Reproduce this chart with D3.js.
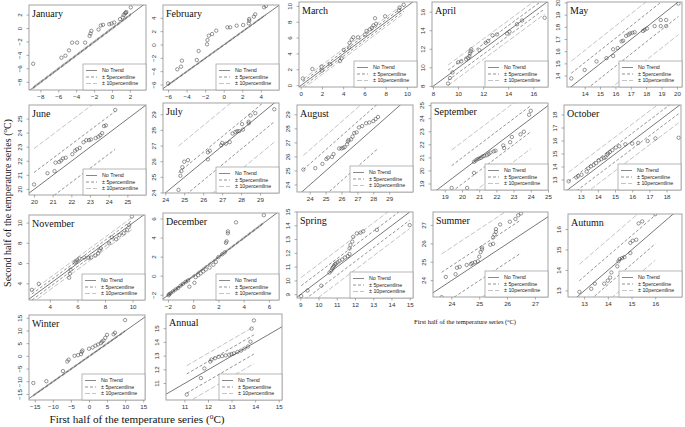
<!DOCTYPE html>
<html><head><meta charset="utf-8">
<script src="https://cdn.jsdelivr.net/npm/d3@7"></script>
<style>body{margin:0;background:#fff}svg{display:block}</style>
</head><body>
<svg id="c" width="685" height="427"></svg>
<script>
// ---------- data ----------
const panelNames = ["January","February","March","April","May","June","July","August","September","October","November","December","Spring","Summer","Autumn","Winter","Annual"];
const xDomains = [[-9.27,3.8],[-6.54,5.96],[-0.16,10.95],[7.92,17.17],[12.85,20.33],[19.73,26.0],[23.88,30.0],[23.2,30.5],[18.2,25.0],[12.03,18.84],[2.49,10.9],[-2.39,6.8],[8.82,15.18],[23.34,27.47],[12.32,17.13],[-16.6,15.5],[10.22,15.14]];
const yDomains = [[-9.15,3.5],[-6.75,6.0],[-0.17,10.55],[7.93,17.1],[13.1,20.08],[19.6,26.0],[24.0,29.75],[23.5,29.7],[18.54,25.2],[12.23,18.77],[2.4,10.8],[-2.5,6.63],[8.76,15.0],[23.11,27.73],[12.7,16.76],[-17.2,16.3],[9.8,16.07]];
const xTicks = [[-8,-6,-4,-2,0,2],[-6,-4,-2,0,2,4],[0,2,4,6,8,10],[8,10,12,14,16],[14,15,16,17,18,19,20],[20,21,22,23,24,25],[24,25,26,27,28,29],[24,25,26,27,28,29],[19,20,21,22,23,24,25],[13,14,15,16,17,18],[4,6,8,10],[-2,0,2,4,6],[9,10,11,12,13,14,15],[24,25,26,27],[13,14,15,16],[-15,-10,-5,0,5,10,15],[11,12,13,14,15]];
const yTicks = [[-8,-6,-4,-2,0,2],[-6,-4,-2,0,2,4],[0,2,4,6,8,10],[8,10,12,14,16],[14,15,16,17,18,19,20],[20,21,22,23,24,25],[24,25,26,27,28,29],[24,25,26,27,28,29],[19,20,21,22,23,24,25],[13,14,15,16,17,18],[4,6,8,10],[-2,0,2,4,6],[9,10,11,12,13,14,15],[24,25,26,27],[13,14,15,16],[-15,-10,-5,0,5,10,15],[11,12,13,14,15]];
// percentile line offsets: [-10, -5, +5, +10]
const offsets = [[-0.15,-0.08,0.08,0.15],[-0.1,-0.05,0.05,0.1],[-0.6,-0.3,0.3,0.6],[-1.1,-0.55,0.55,1.1],[-2.7,-1.2,1.1,2.1],[-3.0,-1.5,1.2,2.9],[-2.5,-1.2,0.6,2.3],[-3.5,-1.7,1.5,2.5],[-2.3,-1.0,1.0,2.2],[-1.3,-0.6,0.6,1.3],[-0.6,-0.3,0.3,0.6],[-0.1,-0.05,0.05,0.1],[-1.2,-0.6,0.6,1.2],[-2.0,-1.0,0.8,1.8],[-1.5,-0.7,0.7,1.5],[-0.3,-0.15,0.15,0.3],[-1.5,-0.8,0.6,1.2]];

const janPts = [[-8.8,-5.25],[-5.65,-4.35],[-5.2,-4.05],[-4.8,-3.25],[-4.45,-2.1],[-3.9,-2.1],[-3.0,-2.1],[-2.5,-1.1],[-2.4,-0.75],[-2.3,-0.35],[-1.5,-0.15],[-1.25,0.45],[-1.0,0.55],[-0.3,0.65],[-0.05,0.75],[0.25,0.9],[0.9,1.4],[1.2,1.65],[1.3,2.0],[1.45,2.25],[1.55,2.35],[1.6,2.45],[2.1,3.15]];
const febPts = [[-6.0,-5.75],[-5.0,-3.65],[-4.6,-3.25],[-4.5,-2.35],[-2.9,-2.25],[-2.7,-0.9],[-1.8,0.1],[-1.75,0.75],[-1.6,1.4],[-1.25,1.65],[-0.8,2.15],[0.4,2.65],[0.7,2.65],[1.4,2.9],[2.1,3.0],[2.7,3.25],[2.75,3.65],[2.75,3.9],[3.25,4.25],[3.4,4.6],[4.35,5.65],[4.55,5.85]];
const marPts = [[0.2,0.9],[1.1,2.1],[1.95,2.4],[2.0,1.9],[2.75,2.7],[3.7,3.1],[3.85,3.45],[4.05,4.5],[4.55,4.8],[4.6,5.4],[4.8,5.8],[4.95,6.1],[5.4,6.1],[6.05,6.45],[6.2,6.9],[6.5,7.1],[6.7,7.3],[6.85,7.6],[7.1,7.8],[7.0,8.5],[7.95,8.75],[9.25,9.5],[9.3,9.85],[9.7,10.2]];
const aprPts = [[9.2,8.3],[9.35,8.9],[9.55,9.5],[10.0,10.6],[10.25,10.7],[10.65,10.9],[10.8,11.05],[10.9,11.25],[10.95,11.55],[11.0,11.8],[11.05,12.0],[11.7,11.9],[12.2,12.7],[12.4,12.9],[12.75,13.5],[13.1,13.6],[13.9,13.7],[14.1,13.9],[14.7,14.7],[15.1,15.1],[16.9,15.4]];
const mayPts = [[13.13,13.8],[14.0,14.5],[14.77,15.2],[15.42,15.47],[15.85,15.65],[15.85,16.2],[16.15,16.3],[16.4,16.85],[16.5,16.9],[16.7,17.3],[16.85,17.4],[16.95,17.5],[17.1,17.55],[17.25,17.6],[17.8,17.7],[17.9,17.8],[18.05,17.9],[18.55,18.1],[18.95,18.6],[19.3,18.6],[18.95,18.1],[19.3,18.1],[20.1,19.95]];
const junPts = [[20.0,20.35],[20.72,21.15],[21.1,21.3],[21.15,21.9],[21.35,21.95],[21.45,22.05],[21.55,22.2],[21.7,22.25],[22.05,22.5],[22.2,22.75],[22.3,22.85],[22.45,22.95],[22.65,23.35],[22.8,23.5],[22.95,23.5],[23.05,23.55],[23.3,23.65],[23.45,23.75],[23.55,23.85],[23.65,24.0],[23.75,24.5],[23.85,24.55],[24.35,25.65]];
const julPts = [[24.7,24.2],[24.8,25.1],[24.85,25.4],[24.9,25.65],[25.0,26.0],[25.2,26.1],[26.25,26.15],[26.25,26.6],[26.35,26.7],[26.95,27.05],[27.0,27.2],[27.2,27.15],[27.4,27.25],[27.55,27.8],[27.7,27.9],[27.8,27.95],[27.9,27.95],[28.1,28.05],[28.05,28.4],[28.4,28.45],[28.4,28.55],[28.5,28.95],[28.75,29.1],[29.75,29.35]];
const augPts = [[23.6,25.1],[24.35,25.2],[24.8,25.5],[25.05,25.85],[25.15,25.95],[25.4,26.0],[25.5,26.2],[25.85,26.6],[26.0,26.6],[26.1,26.65],[26.2,26.7],[26.35,26.9],[26.4,27.1],[26.45,27.2],[26.6,27.25],[26.7,27.45],[26.8,27.7],[26.95,27.75],[27.1,28.1],[27.3,28.2],[27.55,28.4],[27.75,28.45],[28.0,28.55],[28.15,28.7],[28.3,28.85]];
const sepPts = [[19.4,18.7],[20.3,18.7],[20.7,19.85],[20.7,20.7],[20.8,20.8],[20.9,20.9],[21.0,20.95],[21.1,21.0],[21.2,21.1],[21.3,21.15],[21.45,21.2],[21.55,21.3],[21.65,21.4],[21.85,21.5],[21.95,21.55],[22.4,21.95],[22.45,21.75],[22.8,22.2],[22.9,22.6],[23.4,22.8],[23.6,23.0],[23.9,24.3],[24.0,24.6]];
const octPts = [[12.3,12.9],[12.75,13.2],[12.85,13.3],[13.05,13.4],[13.35,13.65],[13.45,13.9],[13.6,14.05],[13.75,14.15],[13.9,14.3],[14.05,14.5],[14.2,14.6],[14.35,14.7],[14.45,14.75],[14.55,14.95],[14.6,15.05],[14.7,15.15],[14.85,15.3],[15.05,15.5],[15.25,15.6],[15.6,15.75],[16.0,15.8],[16.35,15.85],[16.9,16.0],[17.35,16.2],[18.7,16.25]];
const novPts = [[2.7,3.4],[3.2,4.0],[5.4,4.6],[5.45,5.0],[5.5,5.4],[5.8,6.1],[5.9,6.2],[6.0,6.35],[6.15,6.5],[6.5,6.6],[6.8,6.55],[7.0,6.6],[7.3,6.8],[7.5,7.0],[7.6,7.3],[7.7,7.5],[8.3,8.0],[8.5,8.6],[8.8,8.4],[9.05,8.8],[9.35,9.0],[9.6,9.3],[9.75,9.8],[9.95,10.65]];
const decPts = [[-1.95,-2.0],[-1.9,-1.9],[-1.8,-1.8],[-1.6,-1.6],[-1.4,-1.4],[-1.2,-1.25],[-1.0,-1.0],[-0.8,-0.8],[-0.6,-0.6],[-0.4,-0.45],[-0.3,-1.1],[0.1,-0.7],[0.2,-0.1],[0.4,0.1],[0.6,0.3],[0.8,0.5],[1.0,0.7],[1.3,0.9],[1.6,1.2],[1.8,1.5],[2.0,2.0],[2.3,2.3],[2.5,2.5],[2.6,3.5],[2.65,3.65],[2.75,4.5],[2.75,4.7],[3.4,5.65],[5.6,6.4]];
const sprPts = [[9.05,8.9],[9.4,9.3],[10.15,9.65],[10.6,10.6],[10.7,10.75],[10.75,10.9],[10.8,11.0],[10.85,11.1],[10.9,11.2],[10.95,11.25],[11.05,11.35],[11.15,11.45],[11.3,11.55],[11.45,11.7],[11.6,11.8],[11.7,11.95],[11.7,12.35],[11.75,12.6],[11.85,12.85],[11.9,13.2],[12.1,13.45],[12.3,13.5],[12.45,13.6],[13.2,13.7],[15.0,14.05]];
const sumPts = [[23.65,23.1],[23.8,24.2],[24.15,24.35],[24.2,24.7],[24.3,24.75],[24.55,24.85],[24.7,24.9],[24.75,24.95],[24.85,25.0],[24.95,25.05],[25.0,25.3],[25.05,25.55],[25.1,25.7],[25.1,25.8],[25.4,25.95],[25.5,26.0],[25.5,26.35],[25.55,26.5],[25.6,26.65],[25.6,26.8],[25.75,27.05],[26.1,27.2],[26.3,27.35],[26.4,27.55],[26.5,27.65]];
const autPts = [[12.8,12.95],[13.3,13.1],[13.45,13.35],[13.85,13.35],[14.0,13.5],[14.1,13.65],[14.15,13.9],[14.4,14.2],[14.45,14.45],[14.5,14.55],[14.6,14.6],[14.7,14.65],[14.95,14.85],[14.95,15.35],[15.05,15.45],[15.2,15.5],[15.3,16.3],[15.45,16.4],[16.0,16.75]];
const winPts = [[-15.4,-10.5],[-11.8,-9.8],[-7.2,-5.8],[-6.0,-2.0],[-5.6,-1.3],[-4.0,0.2],[-3.0,0.5],[-2.2,0.9],[-2.0,1.8],[-1.8,2.3],[0.0,3.0],[1.0,3.5],[1.8,4.2],[2.5,4.7],[3.3,5.2],[3.6,5.8],[4.0,6.2],[4.5,7.3],[5.0,8.5],[6.8,8.7],[7.2,9.3],[10.0,14.3]];
const annPts = [[11.1,10.2],[11.7,11.4],[11.85,12.1],[12.1,12.6],[12.15,12.75],[12.3,12.85],[12.45,12.95],[12.6,13.0],[12.75,13.05],[12.9,13.1],[13.0,13.15],[13.1,13.2],[13.25,13.3],[13.4,13.4],[13.55,13.55],[13.7,13.7],[13.8,14.05],[13.85,15.0],[13.95,15.6]];
const seriesPts = [janPts,febPts,marPts,aprPts,mayPts,junPts,julPts,augPts,sepPts,octPts,novPts,decPts,sprPts,sumPts,autPts,winPts,annPts];
const legendLabels = ["No Trend","\u00b1 5percentline","\u00b1 10percentline"];

// ---------- layout (pixel boxes: left, top, right, bottom) ----------
const boxes = [[29,5,146,90],[163,5,279,90],[299,2,417,87],[432,2,548,87],[567,2,682,87],
[29,105,146,195],[163,103,279,193],[297,105,413,192],[431,103,548,190],[564,105,681,190],
[29,215,145,300],[163,213,279,300],[297,212,413,298],[433,212,548,297],[568,214,682,297],
[29,315,145,400],[166,314,282,400]];

const svg = d3.select("#c");
const lineStyles = [
  {stroke:"#555", dash:null},
  {stroke:"#666", dash:"3,2"},
  {stroke:"#aaa", dash:"5,2"}
];

panelNames.forEach((name,i)=>{
  const [L,T,R,B] = boxes[i];
  const x = d3.scaleLinear().domain(xDomains[i]).range([L,R]);
  const y = d3.scaleLinear().domain(yDomains[i]).range([B,T]);
  const g = svg.append("g");
  const cid = "clip"+i;
  svg.append("clipPath").attr("id",cid).append("rect").attr("x",L).attr("y",T).attr("width",R-L).attr("height",B-T);
  const pg = g.append("g").attr("clip-path",`url(#${cid})`);
  const [x0,x1] = xDomains[i];
  const ln = d3.line().x(d=>x(d[0])).y(d=>y(d[1]));
  pg.append("path").attr("d",ln([[x0,x0],[x1,x1]])).attr("fill","none")
    .attr("stroke",lineStyles[0].stroke).attr("stroke-width",0.8);
  const pts = seriesPts[i];
  const ext = d3.extent(pts,d=>d[0]);
  offsets[i].forEach((o,k)=>{
    const st = (k===0||k===3) ? lineStyles[2] : lineStyles[1];
    pg.append("path").attr("d",ln([[ext[0],ext[0]+o],[ext[1],ext[1]+o]])).attr("fill","none")
      .attr("stroke",st.stroke).attr("stroke-width",0.7).attr("stroke-dasharray",st.dash);
  });
  pg.selectAll("circle").data(pts).join("circle")
    .attr("cx",d=>x(d[0])).attr("cy",d=>y(d[1])).attr("r",1.7)
    .attr("fill","none").attr("stroke","#444").attr("stroke-width",0.55);
  g.append("rect").attr("x",L).attr("y",T).attr("width",R-L).attr("height",B-T)
    .attr("fill","none").attr("stroke","#999").attr("stroke-width",0.9);
  const ax = d3.axisBottom(x).tickValues(xTicks[i]).tickSize(2.5).tickPadding(2).tickFormat(d3.format("d"));
  const axg = g.append("g").attr("transform",`translate(0,${B})`).call(ax);
  axg.select(".domain").remove();
  axg.selectAll("line").attr("stroke","#777").attr("stroke-width",0.6);
  axg.selectAll("text").attr("font-family","Liberation Sans, Arial, sans-serif").attr("font-size",6.2).attr("fill","#333");
  const ay = d3.axisLeft(y).tickValues(yTicks[i]).tickSize(2.5).tickPadding(2).tickFormat(d3.format("d"));
  const ayg = g.append("g").attr("transform",`translate(${L},0)`).call(ay);
  ayg.select(".domain").remove();
  ayg.selectAll("line").attr("stroke","#777").attr("stroke-width",0.6);
  ayg.selectAll("text").attr("font-family","Liberation Sans, Arial, sans-serif").attr("font-size",6.2).attr("fill","#333")
    .attr("text-anchor","middle").attr("x",null).attr("dy",null)
    .attr("transform",d=>`translate(-7,${y(d)}) rotate(-90)`).attr("y",0);
  ayg.selectAll(".tick").attr("transform","translate(0,0)");
  ayg.selectAll(".tick line").attr("y1",d=>y(d)).attr("y2",d=>y(d)).attr("x2",-2.5);
  g.append("text").attr("x",L+3).attr("y",T+12).text(name)
    .attr("font-family","Liberation Serif, Times New Roman, serif").attr("font-size",10).attr("fill","#111");
  const lw=63, lh=26, lx=R-lw, ly=B-lh;
  g.append("rect").attr("x",lx).attr("y",ly).attr("width",lw).attr("height",lh)
    .attr("fill","#fff").attr("stroke","#999").attr("stroke-width",0.7);
  legendLabels.forEach((lab,k)=>{
    const yy = ly+6.5+k*6.5;
    g.append("line").attr("x1",lx+3).attr("x2",lx+14).attr("y1",yy).attr("y2",yy)
      .attr("stroke",lineStyles[k].stroke).attr("stroke-width",0.7).attr("stroke-dasharray",lineStyles[k].dash);
    g.append("text").attr("x",lx+19).attr("y",yy+1.8).text(lab)
      .attr("font-family","Liberation Sans, Arial, sans-serif").attr("font-size",5.3).attr("fill","#222");
  });
});

const yl = svg.append("text").attr("transform","translate(11,203) rotate(-90)").attr("text-anchor","middle")
  .attr("font-family","Liberation Serif, Times New Roman, serif").attr("font-size",10).attr("fill","#111");
yl.append("tspan").text("Second half of the temperature series (");
yl.append("tspan").text("o").attr("font-size",6.8).attr("dy",-4);
yl.append("tspan").text("C)").attr("dy",4);
function xlab(cx,cy,fs){
  const t = svg.append("text").attr("x",cx).attr("y",cy).attr("text-anchor","middle")
    .attr("font-family","Liberation Serif, Times New Roman, serif").attr("font-size",fs).attr("fill","#111");
  t.append("tspan").text("First half of the temperature series (");
  t.append("tspan").text("o").attr("font-size",fs*0.66).attr("dy",-fs*0.38);
  t.append("tspan").text("C)").attr("dy",fs*0.38);
}
xlab(137,423,11.2);
xlab(465,324,6.5);
</script>
</body></html>
